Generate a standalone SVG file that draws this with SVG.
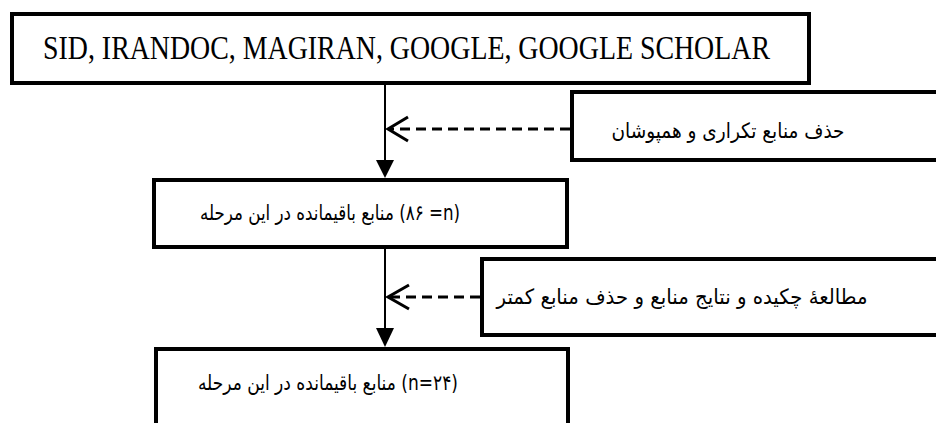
<svg xmlns="http://www.w3.org/2000/svg" width="936" height="423" viewBox="0 0 936 423">
<style>
.box{fill:#fff;stroke:#000;stroke-width:4}
.en{font-family:"Liberation Serif","Times New Roman",serif;font-size:33px;fill:#000}
.fa{font-family:"DejaVu Sans","Noto Sans",sans-serif;font-size:21px;fill:#000;text-anchor:middle}
.flow{stroke:#000;stroke-width:2;fill:none}
.dash{stroke:#000;stroke-width:3;fill:none;stroke-dasharray:10 6}
.chev{stroke:#000;stroke-width:3;fill:none}
</style>
<rect width="936" height="423" fill="#fff"/>
<g id="connectors">
<line class="flow" x1="385" y1="84" x2="385" y2="162"/>
<path d="M376,160 L394,160 L385,178 Z" fill="#000"/>
<line class="flow" x1="385" y1="248" x2="385" y2="330"/>
<path d="M376,328 L394,328 L385,347 Z" fill="#000"/>
<line class="dash" x1="570" y1="129" x2="390" y2="129"/>
<path class="chev" d="M408,117 L388,129 L408,141"/>
<line class="dash" x1="480" y1="297" x2="390" y2="297"/>
<path class="chev" d="M409,285 L388,297 L409,309"/>
</g>
<g id="n1">
<rect class="box" x="12" y="14" width="797" height="69"/>
<text class="en" x="43" y="59" textLength="727" lengthAdjust="spacingAndGlyphs">SID, IRANDOC, MAGIRAN, GOOGLE, GOOGLE SCHOLAR</text>
</g>
<g id="n2">
<rect class="box" x="572" y="92" width="400" height="68"/>
<text class="fa" x="728" y="138" direction="rtl" textLength="233" lengthAdjust="spacingAndGlyphs">حذف منابع تکراری و همپوشان</text>
</g>
<g id="n3">
<rect class="box" x="154" y="180" width="413" height="67"/>
<text class="fa" x="330" y="220" direction="rtl" textLength="260" lengthAdjust="spacingAndGlyphs">(n= &#x200F;۸۶) منابع باقیمانده در این مرحله</text>
</g>
<g id="n4">
<rect class="box" x="482" y="259" width="500" height="76"/>
<text class="fa" x="682" y="304" direction="rtl" textLength="371" lengthAdjust="spacingAndGlyphs">مطالعهٔ چکیده و نتایج منابع و حذف منابع کمتر</text>
</g>
<g id="n5">
<rect class="box" x="156" y="349" width="412" height="100"/>
<text class="fa" x="328" y="390" direction="rtl" textLength="260" lengthAdjust="spacingAndGlyphs">(n=۲۴) منابع باقیمانده در این مرحله</text>
</g>
</svg>
